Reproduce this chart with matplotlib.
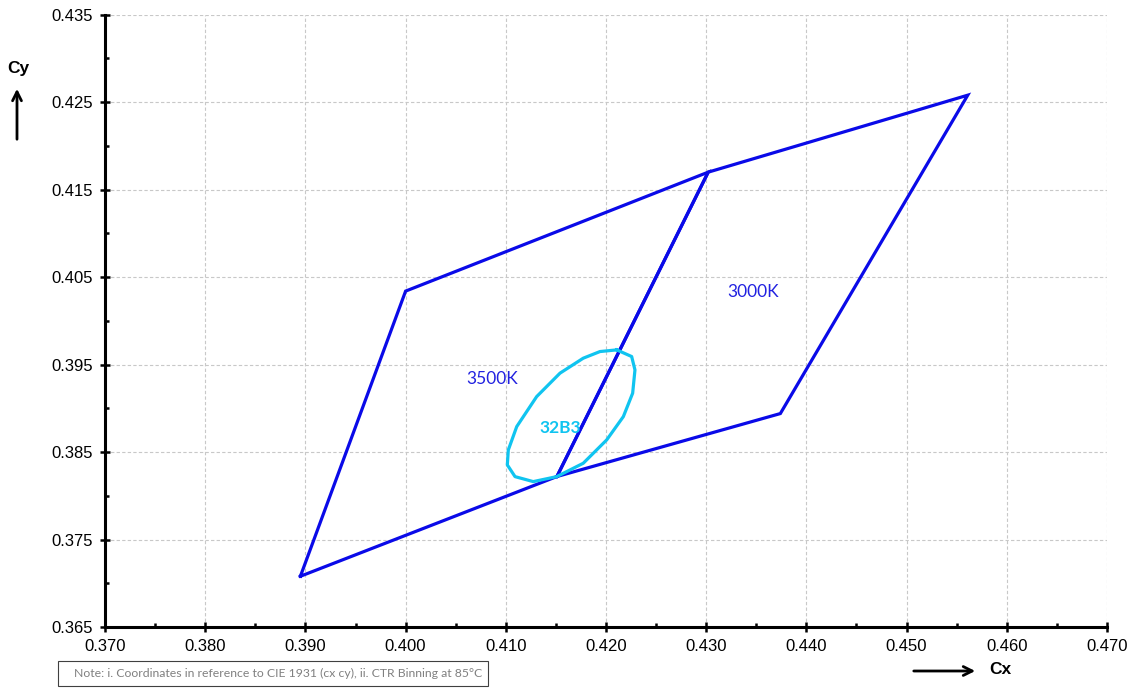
import numpy as np
import matplotlib
matplotlib.use("Agg")
import matplotlib.pyplot as plt
from matplotlib.ticker import MultipleLocator, FormatStrFormatter

# bin quadrangles (cx, cy)
bin_3500_x = [0.3895, 0.4000, 0.4302, 0.4151, 0.3895]
bin_3500_y = [0.3708, 0.4034, 0.4170, 0.3822, 0.3708]
bin_3000_x = [0.4151, 0.4302, 0.4561, 0.4374, 0.4151]
bin_3000_y = [0.3822, 0.4170, 0.4258, 0.3894, 0.3822]

# 32B3 ellipse outline
ell_x = [0.42107, 0.42256, 0.42289, 0.42266, 0.42173, 0.42007, 0.41773, 0.41508,
         0.41274, 0.41092, 0.41015, 0.41025, 0.41109, 0.41308, 0.41541, 0.41773,
         0.41940, 0.42107]
ell_y = [0.39668, 0.39592, 0.39439, 0.39173, 0.38905, 0.38639, 0.38372, 0.38219,
         0.38162, 0.38219, 0.38353, 0.38524, 0.38791, 0.39134, 0.39402, 0.39573,
         0.39649, 0.39668]

labels = ['3500K', '3000K', '32B3']
label_x = [0.4086, 0.4347, 0.4154]
label_y = [0.3933, 0.4033, 0.3878]

blue = '#0A0AE8'
cyan = '#10C4F0'
lw = 2.3

fig = plt.figure(figsize=(11.39, 6.88), dpi=100)
ax = fig.add_axes([0.0922, 0.0887, 0.8797, 0.8899])

ax.plot(bin_3500_x, bin_3500_y, color=blue, linewidth=lw, solid_joinstyle='miter', zorder=3)
ax.plot(bin_3000_x, bin_3000_y, color=blue, linewidth=lw, solid_joinstyle='miter', zorder=3)
ax.plot(ell_x, ell_y, color=cyan, linewidth=lw, zorder=4)

ax.text(label_x[0], label_y[0], labels[0], color='#2222E0', fontsize=12.5,
        family='Lato', ha='center', va='center')
ax.text(label_x[1], label_y[1], labels[1], color='#2222E0', fontsize=12.5,
        family='Lato', ha='center', va='center')
ax.text(label_x[2], label_y[2], labels[2], color=cyan, fontsize=12.5,
        family='Lato', fontweight='bold', ha='center', va='center')

ax.set_xlim(0.370, 0.470)
ax.set_ylim(0.365, 0.435)
ax.xaxis.set_major_locator(MultipleLocator(0.010))
ax.xaxis.set_minor_locator(MultipleLocator(0.005))
ax.yaxis.set_minor_locator(MultipleLocator(0.005))
ax.set_yticks(np.arange(0.365, 0.4351, 0.010))
ax.xaxis.set_major_formatter(FormatStrFormatter('%.3f'))
ax.yaxis.set_major_formatter(FormatStrFormatter('%.3f'))

ax.grid(True, which='major', color='#C8C8C8', linestyle=(0, (3, 2)), linewidth=0.8)
ax.set_axisbelow(True)

for s in ['top', 'right']:
    ax.spines[s].set_visible(False)
for s in ['left', 'bottom']:
    ax.spines[s].set_linewidth(2.2)

ax.tick_params(which='major', direction='inout', length=7, width=1.8,
               labelsize=12, pad=5)
ax.tick_params(which='minor', direction='in', length=3, width=1.8)
for t in ax.get_xticklabels() + ax.get_yticklabels():
    t.set_family('Liberation Sans')

# axis titles with arrows
fig.text(18 / 1139, 1 - 68 / 688, 'Cy', fontsize=12.5, fontweight='bold',
         family='Liberation Sans', ha='center', va='center')
fig.add_artist(matplotlib.patches.FancyArrowPatch(
    (17 / 1139, 1 - 142 / 688), (17 / 1139, 1 - 86 / 688),
    transform=fig.transFigure, arrowstyle='->', mutation_scale=16,
    linewidth=2, color='black'))
fig.text(1000 / 1139, 1 - 670 / 688, 'Cx', fontsize=12.5, fontweight='bold',
         family='Liberation Sans', ha='center', va='center')
fig.add_artist(matplotlib.patches.FancyArrowPatch(
    (911 / 1139, 1 - 671 / 688), (978 / 1139, 1 - 671 / 688),
    transform=fig.transFigure, arrowstyle='->', mutation_scale=16,
    linewidth=2, color='black'))

# note box
fig.text(74 / 1139, 1 - 673 / 688,
         'Note: i. Coordinates in reference to CIE 1931 (cx cy), ii. CTR Binning at 85\u00b0C',
         fontsize=8.8, color='#808080', family='Lato', va='center', ha='left')
fig.add_artist(matplotlib.patches.Rectangle(
    (58 / 1139, 1 - 686 / 688), 430 / 1139, 25 / 688, transform=fig.transFigure,
    fill=False, edgecolor='#404040', linewidth=0.8))

fig.savefig('out.png', dpi=100)
